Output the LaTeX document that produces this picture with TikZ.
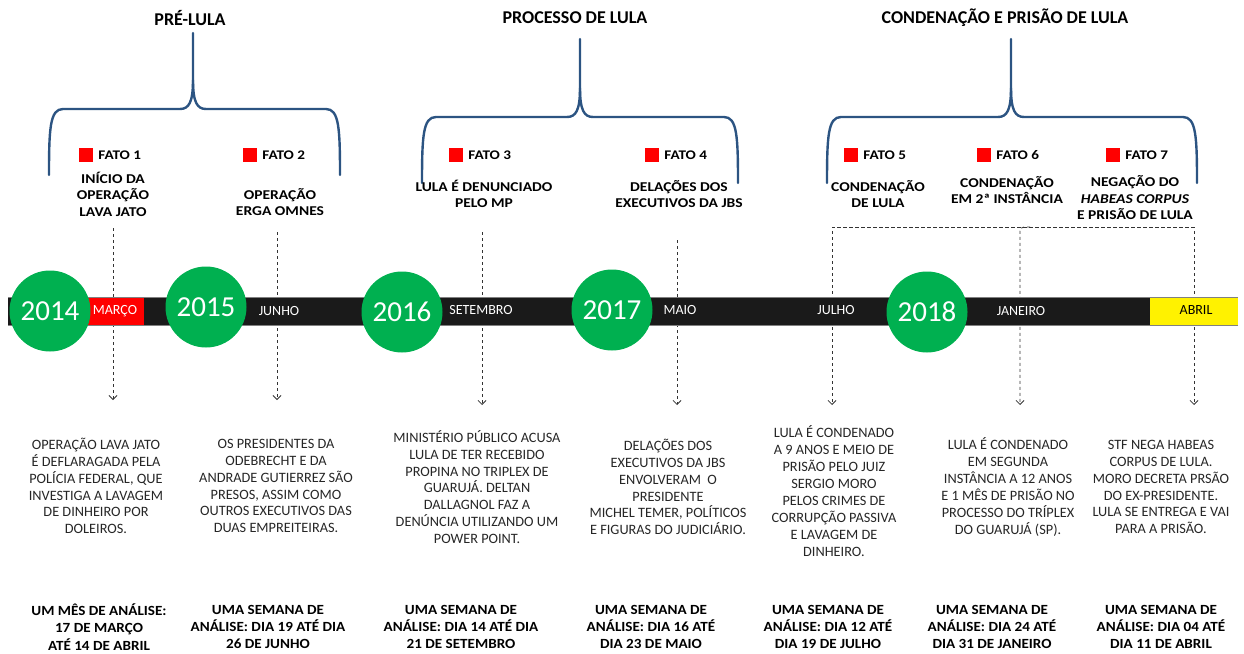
\documentclass[tikz,border=0pt]{standalone}
\usepackage{fontspec}
\setmainfont{Carlito}
\newfontfamily\widebold[FakeStretch=1.15]{Carlito}
\newfontfamily\semiwide[FakeStretch=1.08]{Carlito}
\usetikzlibrary{arrows.meta,positioning}

\definecolor{bracecol}{RGB}{44,84,130}
\definecolor{yeargreen}{RGB}{0,176,80}
\definecolor{barblack}{RGB}{26,26,26}
\definecolor{textgray}{RGB}{38,38,38}

\tikzstyle{brace}=[line width=2.4pt, bracecol, line cap=round]
\tikzstyle{period}=[font=\fontsize{18}{22}\selectfont\bfseries, inner sep=0pt]
\tikzstyle{marker}=[fill=red, minimum size=14pt, inner sep=0pt]
\tikzstyle{fato}=[font=\widebold\fontsize{13.2}{17}\selectfont\bfseries, inner sep=0pt]
\tikzstyle{headline}=[font=\widebold\fontsize{13.5}{16.5}\selectfont\bfseries, align=center, inner sep=0pt]
\tikzstyle{year}=[circle, fill=yeargreen, minimum size=81pt, inner sep=0pt, text=white, font=\fontsize{29}{30}\selectfont]
\tikzstyle{month}=[text=white, font=\fontsize{14}{16}\selectfont, inner sep=0pt]
\tikzstyle{desc}=[font=\fontsize{14.3}{16.9}\selectfont, align=center, text=textgray, inner sep=0pt]
\tikzstyle{span}=[font=\semiwide\fontsize{14}{17.2}\selectfont\bfseries, align=center, inner sep=0pt]
\tikzstyle{guide}=[dashed, black!80, line width=0.8pt, -{Straight Barb[length=4pt,width=8pt]}]

\begin{document}
\begin{tikzpicture}[x=1pt, y=-1pt]
\useasboundingbox (0,0) rectangle (1244,653);
% Periods
    \node[period] (t1) at (190,18) {PRÉ-LULA};
    \node[period] (t2) at (575,18) {PROCESSO DE LULA};
    \node[period] (t3) at (1005,18) {CONDENAÇÃO E PRISÃO DE LULA};
% Braces
    \draw[brace] (49,175) .. controls (49,128) and (50,109) .. (63,109) -- (180,109)
        .. controls (189,109) and (193,102) .. (193,80) -- (193,33);
    \draw[brace] (193,80) .. controls (193,102) and (197,109) .. (206,109) -- (326,109)
        .. controls (339,109) and (340,128) .. (340,175);
    \draw[brace] (422,183) .. controls (422,136) and (423,117) .. (436,117) -- (567,117)
        .. controls (576,117) and (580,110) .. (580,88) -- (580,39);
    \draw[brace] (580,88) .. controls (580,110) and (584,117) .. (593,117) -- (724,117)
        .. controls (737,117) and (738,136) .. (738,183);
    \draw[brace] (827,183) .. controls (827,136) and (828,117) .. (841,117) -- (998,117)
        .. controls (1007,117) and (1011,110) .. (1011,88) -- (1011,39);
    \draw[brace] (1011,88) .. controls (1011,110) and (1015,117) .. (1024,117) -- (1183,117)
        .. controls (1196,117) and (1197,136) .. (1197,183);
% Facts
    \node[marker] (m1) at (86,155) {};
    \node[marker] (m2) at (250,155) {};
    \node[marker] (m3) at (456,155) {};
    \node[marker] (m4) at (652,155) {};
    \node[marker] (m5) at (851,155) {};
    \node[marker] (m6) at (984,155) {};
    \node[marker] (m7) at (1113,155) {};
    \node[fato, right=5pt of m1] (f1) {FATO 1};
    \node[fato, right=5pt of m2] (f2) {FATO 2};
    \node[fato, right=5pt of m3] (f3) {FATO 3};
    \node[fato, right=5pt of m4] (f4) {FATO 4};
    \node[fato, right=5pt of m5] (f5) {FATO 5};
    \node[fato, right=5pt of m6] (f6) {FATO 6};
    \node[fato, right=5pt of m7] (f7) {FATO 7};
    \node[headline] (h1) at (113,194) {INÍCIO DA\\OPERAÇÃO\\LAVA JATO};
    \node[headline] (h2) at (280,202) {OPERAÇÃO\\ERGA OMNES};
    \node[headline] (h3) at (484,194) {LULA É DENUNCIADO\\PELO MP};
    \node[headline] (h4) at (679,194) {DELAÇÕES DOS\\EXECUTIVOS DA JBS};
    \node[headline] (h5) at (878,194) {CONDENAÇÃO\\DE LULA};
    \node[headline] (h6) at (1007,190) {CONDENAÇÃO\\EM 2ª INSTÂNCIA};
    \node[headline] (h7) at (1135,198) {NEGAÇÃO DO\\\textit{HABEAS CORPUS}\\E PRISÃO DE LULA};
% Guides
    \coordinate (g1s) at (113,228);  \coordinate (g1e) at (113,400);
    \coordinate (g2s) at (277,232);  \coordinate (g2e) at (277,400);
    \coordinate (g3s) at (482,232);  \coordinate (g3e) at (482,405);
    \coordinate (g4s) at (677,240);  \coordinate (g4e) at (677,405);
    \coordinate (g5s) at (832,227);  \coordinate (g5e) at (832,405);
    \coordinate (g6s) at (1030,227); \coordinate (g6e) at (1020,405);
    \coordinate (g7s) at (1194,227); \coordinate (g7e) at (1194,405);
    \draw[guide] (g1s) -- (g1e);
    \draw[guide] (g2s) -- (g2e);
    \draw[guide] (g3s) -- (g3e);
    \draw[guide] (g4s) -- (g4e);
    \draw[guide] (g7s) -- (g5s) -- (g5e);
    \draw[guide] (g5s) -- (g7s) -- (g7e);
    \draw[guide, rounded corners=4pt] (g6s) -- (g6e |- g6s) -- (g6e);
% Timeline
    \fill[barblack] (8,297) rectangle (1150,325);
    \fill[red] (70,297) rectangle (144,325);
    \fill[yellow] (1150,297) rectangle (1238,325);
    \draw[gray, line width=0.6pt] (8,297) -- (1238,297) (8,325) -- (1238,325);
    \node[month] (mar) at (115,311) {MARÇO};
    \node[month] (jun) at (279,311) {JUNHO};
    \node[month] (set) at (481,310) {SETEMBRO};
    \node[month] (mai) at (680,310) {MAIO};
    \node[month] (jul) at (836,310) {JULHO};
    \node[month] (jan) at (1021,311) {JANEIRO};
    \node[month, text=black] (abr) at (1196,310) {ABRIL};
    \node[year] (y14) at (50,311) {2014};
    \node[year] (y15) at (206,307) {2015};
    \node[year] (y16) at (402,312) {2016};
    \node[year] (y17) at (612,310) {2017};
    \node[year] (y18) at (927,312) {2018};
% Descriptions
    \node[desc] (d1) at (96,486) {OPERAÇÃO LAVA JATO\\É DEFLARAGADA PELA\\POLÍCIA FEDERAL, QUE\\INVESTIGA A LAVAGEM\\DE DINHEIRO POR\\DOLEIROS.};
    \node[desc] (d2) at (276,486) {OS PRESIDENTES DA\\ODEBRECHT E DA\\ANDRADE GUTIERREZ SÃO\\PRESOS, ASSIM COMO\\OUTROS EXECUTIVOS DAS\\DUAS EMPREITEIRAS.};
    \node[desc] (d3) at (477,487) {MINISTÉRIO PÚBLICO ACUSA\\LULA DE TER RECEBIDO\\PROPINA NO TRIPLEX DE\\GUARUJÁ. DELTAN\\DALLAGNOL FAZ A\\DENÚNCIA UTILIZANDO UM\\POWER POINT.};
    \node[desc] (d4) at (668,487) {DELAÇÕES DOS\\EXECUTIVOS DA JBS\\ENVOLVERAM\ \ O\\PRESIDENTE\\MICHEL TEMER, POLÍTICOS\\E FIGURAS DO JUDICIÁRIO.};
    \node[desc] (d5) at (834,491) {LULA É CONDENADO\\A 9 ANOS E MEIO DE\\PRISÃO PELO JUIZ\\SERGIO MORO\\PELOS CRIMES DE\\CORRUPÇÃO PASSIVA\\E LAVAGEM DE\\DINHEIRO.};
    \node[desc] (d6) at (1008,487) {LULA É CONDENADO\\EM SEGUNDA\\INSTÂNCIA A 12 ANOS\\E 1 MÊS DE PRISÃO NO\\PROCESSO DO TRÍPLEX\\DO GUARUJÁ (SP).};
    \node[desc] (d7) at (1161,487) {STF NEGA HABEAS\\CORPUS DE LULA.\\MORO DECRETA PRSÃO\\DO EX-PRESIDENTE.\\LULA SE ENTREGA E VAI\\PARA A PRISÃO.};
% Analysis windows
    \node[span] (b1) at (99,627) {UM MÊS DE ANÁLISE:\\17 DE MARÇO\\ATÉ 14 DE ABRIL};
    \node[span] (b2) at (268,627) {UMA SEMANA DE\\ANÁLISE: DIA 19 ATÉ DIA\\26 DE JUNHO};
    \node[span] (b3) at (461,627) {UMA SEMANA DE\\ANÁLISE: DIA 14 ATÉ DIA\\21 DE SETEMBRO};
    \node[span] (b4) at (651,627) {UMA SEMANA DE\\ANÁLISE: DIA 16 ATÉ\\DIA 23 DE MAIO};
    \node[span] (b5) at (828,627) {UMA SEMANA DE\\ANÁLISE: DIA 12 ATÉ\\DIA 19 DE JULHO};
    \node[span] (b6) at (992,627) {UMA SEMANA DE\\ANÁLISE: DIA 24 ATÉ\\DIA 31 DE JANEIRO};
    \node[span] (b7) at (1161,627) {UMA SEMANA DE\\ANÁLISE: DIA 04 ATÉ\\DIA 11 DE ABRIL};
\end{tikzpicture}
\end{document}
